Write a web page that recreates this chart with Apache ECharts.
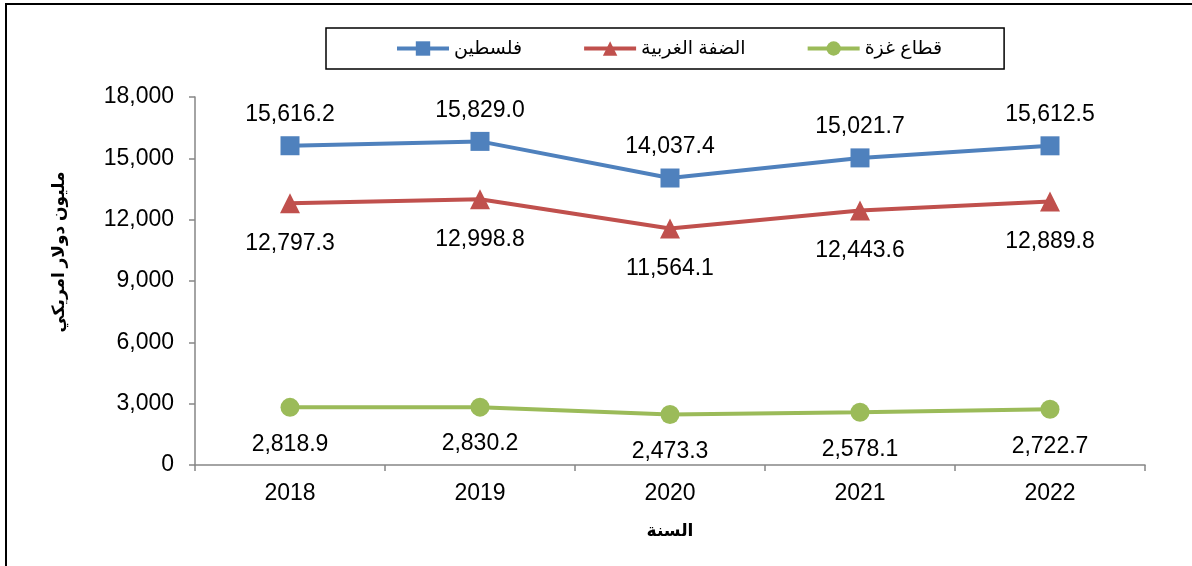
<!DOCTYPE html>
<html>
<head>
<meta charset="utf-8">
<script src="https://cdn.jsdelivr.net/npm/echarts@6/dist/echarts.min.js"></script>
<style>
  html, body { margin: 0; padding: 0; background: #fff; }
  #chart { width: 1192px; height: 566px; }
</style>
</head>
<body>
<div id="chart"></div>
<script>
// years on the category axis
var years = ["2018", "2019", "2020", "2021", "2022"];
// series names (legend, left to right)
var nameP = "فلسطين";
var nameWB = "الضفة الغربية";
var nameG = "قطاع غزة";
// values, million US dollars
var palestine = [15616.2, 15829.0, 14037.4, 15021.7, 15612.5];
var westBank = [12797.3, 12998.8, 11564.1, 12443.6, 12889.8];
var gaza = [2818.9, 2830.2, 2473.3, 2578.1, 2722.7];

var yTitle = "مليون دولار امريكي";
var xTitle = "السنة";

var fontFamily = '"Liberation Sans", Arial, "DejaVu Sans", sans-serif';
var axisGray = "#868686";

function fmt(v) {
    var s = v.toFixed(1).split(".");
    s[0] = s[0].replace(/\B(?=(\d{3})+(?!\d))/g, ",");
    return s.join(".");
}

function make_series(name, data, color, symbol, size, pos, dist) {
    return {
        name: name,
        type: "line",
        data: data,
        symbol: symbol,
        symbolSize: size,
        lineStyle: { color: color, width: 4 },
        itemStyle: { color: color },
        label: {
            show: true,
            position: pos,
            distance: dist,
            color: "#000",
            fontSize: 23,
            fontFamily: fontFamily,
            formatter: function (p) { return fmt(p.value); }
        },
        z: 3
    };
}

var chart = echarts.init(document.getElementById("chart"));
var option = {
    animation: false,
    textStyle: { fontFamily: fontFamily },
    graphic: [
        {
            // outer frame (right and bottom edges cut off in the original)
            type: "rect",
            shape: { x: 6, y: 4, width: 1200, height: 600 },
            style: { fill: null, stroke: "#000", lineWidth: 2 },
            silent: true
        }
    ],
    legend: {
        left: 326,
        top: 28,
        padding: [11, 62, 11, 69],
        itemGap: 60,
        itemWidth: 52,
        itemHeight: 18,
        borderColor: "#000",
        borderWidth: 1.5,
        lineStyle: { width: 4 },
        textStyle: { fontSize: 19, color: "#000", fontFamily: fontFamily },
        data: [nameP, nameWB, nameG]
    },
    grid: { left: 195, right: 47, top: 97, bottom: 101 },
    xAxis: {
        type: "category",
        data: years,
        boundaryGap: true,
        name: xTitle,
        nameLocation: "middle",
        nameGap: 58,
        nameTextStyle: { fontSize: 17, fontWeight: "bold", color: "#000", fontFamily: fontFamily },
        axisLine: { lineStyle: { color: axisGray, width: 1.5 } },
        axisTick: { show: true, length: 6, lineStyle: { color: axisGray, width: 1.5 } },
        axisLabel: { color: "#000", fontSize: 23, margin: 17, fontFamily: fontFamily },
        splitLine: { show: false }
    },
    yAxis: {
        type: "value",
        min: 0,
        max: 18000,
        interval: 3000,
        name: yTitle,
        nameLocation: "middle",
        nameRotate: 90,
        nameGap: 127,
        nameTextStyle: {
            fontSize: 17, fontWeight: "bold", color: "#000", fontFamily: fontFamily,
            padding: [0, 0, 0, 58]
        },
        axisLine: { show: true, lineStyle: { color: axisGray, width: 1.5 } },
        axisTick: { show: true, length: 6, lineStyle: { color: axisGray, width: 1.5 } },
        axisLabel: {
            color: "#000", fontSize: 23, margin: 21, fontFamily: fontFamily,
            formatter: function (v) { return v.toLocaleString("en-US"); }
        },
        splitLine: { show: false }
    },
    series: [
        make_series(nameP, palestine, "#4F81BD", "rect", 19, "top", 10),
        make_series(nameWB, westBank, "#C0504D", "triangle", 20, "bottom", 19),
        make_series(nameG, gaza, "#9BBB59", "circle", 19, "bottom", 16)
    ]
};
chart.setOption(option);
</script>
</body>
</html>
